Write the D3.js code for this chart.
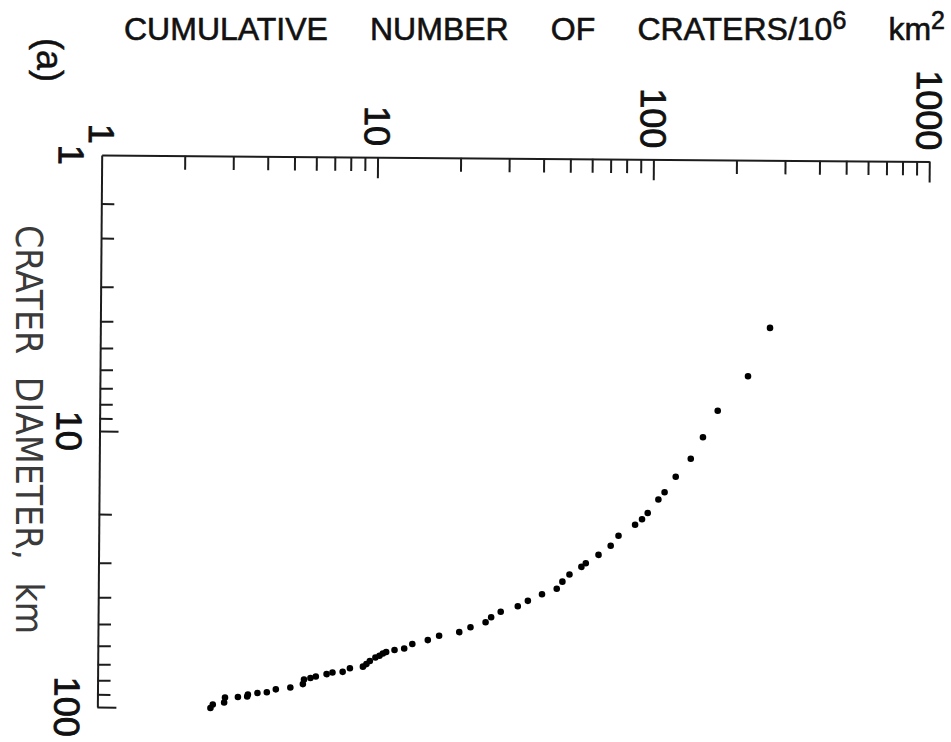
<!DOCTYPE html>
<html>
<head>
<meta charset="utf-8">
<script src="https://cdn.jsdelivr.net/npm/d3@7"></script>
<style>
  body { margin: 0; background: #fff; }
  svg text { fill: #111; }
  .lettering { font-family: "Liberation Sans", Arial, sans-serif; stroke: #111; stroke-width: 0.8px; }
  .axis-title { font-family: "DejaVu Sans Condensed", "Liberation Sans Narrow", sans-serif; fill: #3a3a3a; }
</style>
</head>
<body>
<svg id="chart" width="951" height="742"></svg>
<script>
// Cumulative crater frequency: number of craters per 10^6 km^2 larger than each diameter
const craterCount = [267.6, 223.4, 173.9, 154.0, 139.3, 123.0, 112.2, 106.6, 97.6, 93.1,
  87.9, 76.6, 71.8, 64.9, 58.4, 56.3, 51.0, 48.1, 45.9, 40.6,
  36.1, 33.2, 28.8, 26.6, 25.4, 22.4, 20.4, 17.25, 15.7, 13.8,
  12.9, 11.9, 11.1, 10.8, 10.5, 10.15, 9.69, 9.42, 9.15, 8.21,
  7.73, 7.10, 6.76, 6.18, 5.91, 5.60, 5.55, 5.00, 4.43, 4.11,
  3.80, 3.51, 3.49, 3.23, 2.90, 2.88, 2.62, 2.57];
const craterDiameter = [4.05, 6.07, 8.11, 10.13, 12.12, 14.1, 16.07, 17.08, 19.12, 20.16,
  21.1, 23.15, 25.18, 27.2, 29.2, 30.1, 32.1, 34.1, 36.2, 37.9,
  40.1, 42.0, 44.0, 46.1, 48.1, 50.2, 52.3, 54.0, 56.0, 57.9,
  60.2, 61.0, 62.0, 62.8, 64.0, 65.0, 66.9, 68.7, 70.2, 71.2,
  73.4, 73.9, 74.9, 76.4, 77.4, 78.4, 81.5, 83.9, 85.3, 87.5,
  88.1, 89.2, 90.7, 91.2, 91.6, 95.5, 97.2, 100.1];

const xMajorTicks = [10, 100, 1000];
const xTickValues = [1, 10, 100, 1000];
const xTickLabels = ["1", "10", "100", "1000"];
const yMajorTicks = [10, 100];
const yTickValues = [1, 10, 100];
const yTickLabels = ["1", "10", "100"];
const yExtraMinor = [1.5];

const titleText = "CUMULATIVE NUMBER OF CRATERS/10";
const yTitleText = "CRATER DIAMETER, km";
const panelLabel = "(a)";

const svg = d3.select("#chart");
const ink = "#1c1c1c";

// log-log frame; the x axis runs along the top, diameter grows downward
const x = d3.scaleLog().domain([1, 1000]).range([0, 827.6]);
const y = d3.scaleLog().domain([1, 100]).range([0, 552]);

const frame = svg.append("g")
  .attr("transform", "translate(101.7,155) rotate(0.45)");

function minorTicks(scale) {
  const [lo, hi] = scale.domain();
  const out = [];
  for (let dec = lo; dec < hi; dec *= 10) {
    for (let k = 2; k <= 9; k++) out.push(dec * k);
  }
  return out;
}

function styleAxis(g) {
  g.select(".domain").attr("stroke", ink).attr("stroke-width", 2);
  g.selectAll(".tick line").attr("stroke", ink).attr("stroke-width", 2);
  g.selectAll(".tick text").remove();
}

// top axis
frame.append("g")
  .call(d3.axisTop(x).tickValues(minorTicks(x)).tickSize(-14).tickSizeOuter(0).tickFormat(""))
  .call(styleAxis);
frame.append("g")
  .call(d3.axisTop(x).tickValues(xMajorTicks).tickSize(-21).tickSizeOuter(0).tickFormat(""))
  .call(styleAxis)
  .select(".domain").remove();

// left axis
frame.append("g")
  .call(d3.axisLeft(y).tickValues(yExtraMinor.concat(minorTicks(y))).tickSize(-13).tickSizeOuter(0).tickFormat(""))
  .call(styleAxis);
frame.append("g")
  .call(d3.axisLeft(y).tickValues(yMajorTicks).tickSize(-19).tickSizeOuter(0).tickFormat(""))
  .call(styleAxis)
  .select(".domain").remove();

// tick labels, set sideways
frame.append("g").selectAll("text")
  .data(xTickValues)
  .join("text")
  .attr("class", "lettering")
  .attr("transform", d => `translate(${x(d)},-11) rotate(90)`)
  .attr("text-anchor", "end")
  .attr("dy", "0.36em")
  .attr("font-size", 36)
  .text((d, i) => xTickLabels[i]);

frame.append("g").selectAll("text")
  .data(yTickValues)
  .join("text")
  .attr("class", "lettering")
  .attr("transform", d => `translate(-30,${y(d)}) rotate(90)`)
  .attr("text-anchor", "middle")
  .attr("dy", "0.36em")
  .attr("font-size", 36)
  .text((d, i) => yTickLabels[i]);

// data points
frame.append("g").selectAll("circle")
  .data(craterCount.map((c, i) => [c, craterDiameter[i]]))
  .join("circle")
  .attr("cx", d => x(d[0]))
  .attr("cy", d => y(d[1]))
  .attr("r", 3.3)
  .attr("fill", "#000");

// axis titles
const title = svg.append("text")
  .attr("class", "lettering")
  .attr("x", 124)
  .attr("y", 40)
  .attr("font-size", 32)
  .style("stroke-width", "0.6px");
title.append("tspan").text(titleText);
title.append("tspan").attr("font-size", 25).attr("dy", -11).text("6");
title.append("tspan").attr("dy", 11).text(" km");
title.append("tspan").attr("font-size", 25).attr("dy", -11).text("2");
// spread the words so the title spans the frame width
const natural = title.node().getComputedTextLength();
title.style("word-spacing", Math.max(0, (821 - natural) / 4) + "px");

svg.append("text")
  .attr("class", "axis-title")
  .attr("transform", "translate(15.5,225) rotate(90)")
  .attr("font-size", 37)
  .style("word-spacing", "12px")
  .text(yTitleText);

svg.append("text")
  .attr("class", "lettering")
  .attr("transform", "translate(48,60) rotate(90)")
  .attr("text-anchor", "middle")
  .attr("dy", "0.3em")
  .attr("font-size", 36)
  .style("stroke-width", "0.5px")
  .text(panelLabel);
</script>
</body>
</html>
